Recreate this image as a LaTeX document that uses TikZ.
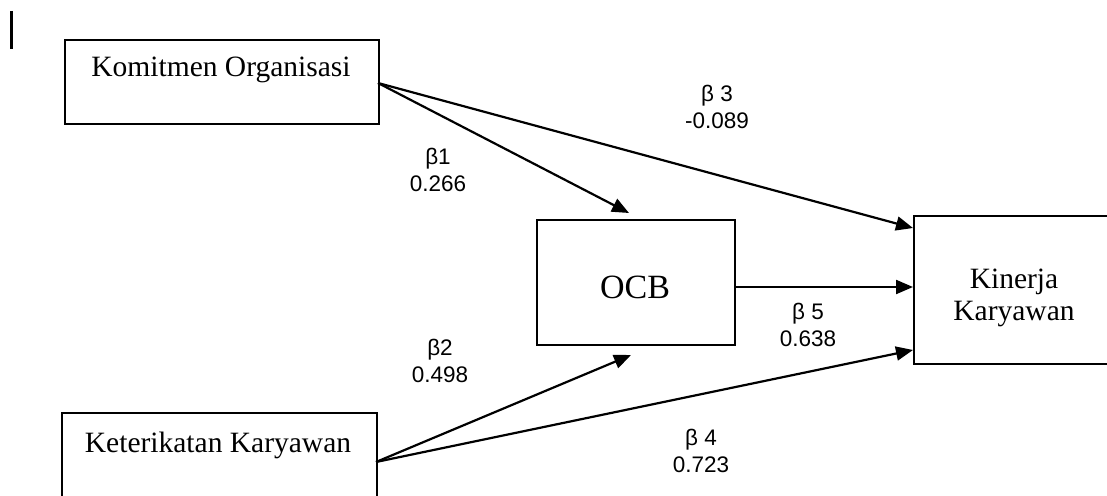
\documentclass[tikz,border=0pt]{standalone}
\usepackage{fontspec}
\setmainfont{Liberation Serif}
\newfontfamily\lab{Liberation Sans}
\usetikzlibrary{arrows.meta}
\begin{document}
\begin{tikzpicture}[x=1pt,y=-1pt,
  box/.style={draw,line width=2.2pt,inner sep=0pt,anchor=north west},
  boxtext/.style={font=\fontsize{29.5}{32}\selectfont,anchor=base,inner sep=0pt,align=center},
  coef/.style={font=\lab\fontsize{22.5}{26.5}\selectfont,anchor=base,inner sep=0pt,align=center},
  path/.style={line width=2.2pt,-{Triangle[length=17pt,width=14pt]}}]
\clip (0,0) rectangle (1107,495);
\fill[white] (0,0) rectangle (1107,495);
\draw[line width=3pt] (11,11) -- (11,49);
% boxes
\node[box,minimum width=314pt,minimum height=84pt] (ko) at (64,39) {};
\node[boxtext] (kot) at (221,77) {Komitmen Organisasi};
\node[box,minimum width=315pt,minimum height=100pt] (kk) at (61,412) {};
\node[boxtext] (kkt) at (218,452) {Keterikatan Karyawan};
\node[box,minimum width=198pt,minimum height=125pt] (ocb) at (536,219) {};
\node[boxtext,font=\fontsize{34}{36}\selectfont] (ocbt) at (635,298) {OCB};
\node[box,minimum width=220pt,minimum height=148pt] (kin) at (913,215) {};
\node[boxtext] (kint) at (1014,320) {Kinerja\\Karyawan};
% connector end points
\coordinate (koout) at (378,83);
\coordinate (kkout) at (376,462);
\coordinate (ocbtop) at (629,213);
\coordinate (ocbbot) at (631,355);
\coordinate (kin1) at (913,228);
\coordinate (kin2) at (913,287);
\coordinate (kin3) at (913,350);
\coordinate (ocbout) at (734,287);
\draw[path] (koout) -- (ocbtop);
\draw[path] (koout) -- (kin1);
\draw[path] (ocbout) -- (kin2);
\draw[path] (kkout) -- (ocbbot);
\draw[path] (kkout) -- (kin3);
% coefficients
\node[coef] (b1) at (438,191) {β1\\0.266};
\node[coef] (b3) at (717,128) {β 3\\-0.089};
\node[coef] (b2) at (440,382) {β2\\0.498};
\node[coef] (b5) at (808,346) {β 5\\0.638};
\node[coef] (b4) at (701,472) {β 4\\0.723};
\end{tikzpicture}
\end{document}
